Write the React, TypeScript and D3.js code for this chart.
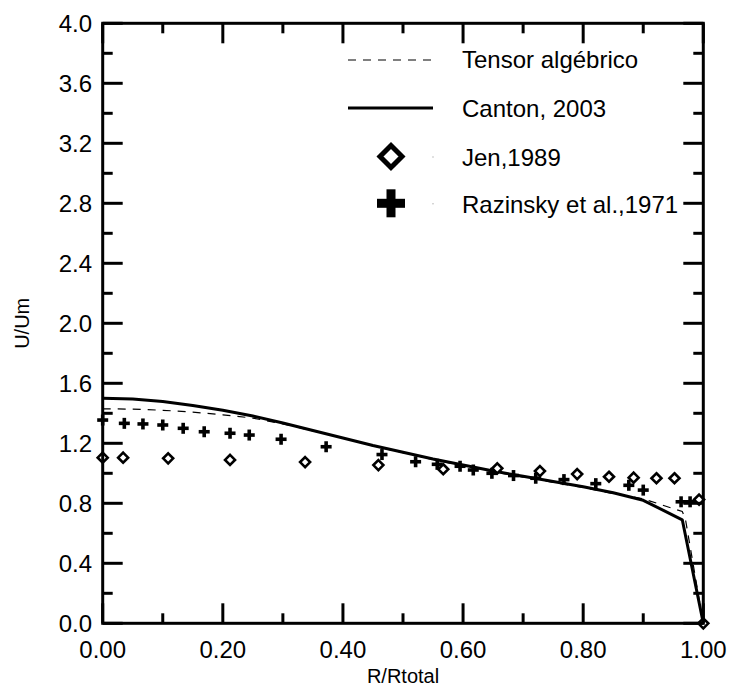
import React from "react";
import * as d3 from "d3";

const xTicksMajor = [0, 0.2, 0.4, 0.6, 0.8, 1.0];
const xTicksMinor = [0.1, 0.3, 0.5, 0.7, 0.9];
const yTicksMajor = [0, 0.4, 0.8, 1.2, 1.6, 2.0, 2.4, 2.8, 3.2, 3.6, 4.0];
const yTicksMinor = [0.2, 0.6, 1.0, 1.4, 1.8, 2.2, 2.6, 3.0, 3.4, 3.8];

const cantonX = [0, 0.05, 0.1, 0.15, 0.2, 0.25, 0.3, 0.35, 0.4, 0.45, 0.5, 0.55, 0.6, 0.65, 0.7, 0.75, 0.8, 0.85, 0.9, 0.965, 1.0];
const cantonY = [1.5, 1.495, 1.478, 1.452, 1.42, 1.382, 1.335, 1.285, 1.235, 1.185, 1.14, 1.095, 1.055, 1.015, 0.98, 0.945, 0.91, 0.87, 0.82, 0.69, 0.0];

const tensorX = [0, 0.05, 0.1, 0.15, 0.2, 0.25, 0.3, 0.35, 0.4, 0.45, 0.5, 0.55, 0.6, 0.65, 0.7, 0.75, 0.8, 0.85, 0.9, 0.965, 0.97, 1.0];
const tensorY = [1.43, 1.428, 1.42, 1.408, 1.39, 1.368, 1.33, 1.283, 1.235, 1.183, 1.137, 1.092, 1.05, 1.01, 0.975, 0.94, 0.905, 0.865, 0.83, 0.745, 0.7, 0.0];

const jenX = [0, 0.034, 0.109, 0.212, 0.337, 0.459, 0.567, 0.657, 0.728, 0.79, 0.843, 0.884, 0.922, 0.952, 0.993, 1.0];
const jenY = [1.104, 1.104, 1.1, 1.089, 1.075, 1.055, 1.027, 1.033, 1.015, 0.995, 0.977, 0.971, 0.967, 0.967, 0.825, 0.0];

const razX = [0, 0.036, 0.067, 0.1, 0.134, 0.169, 0.212, 0.244, 0.297, 0.372, 0.465, 0.521, 0.557, 0.595, 0.617, 0.648, 0.684, 0.721, 0.768, 0.821, 0.876, 0.9, 0.963, 0.978];
const razY = [1.355, 1.333, 1.329, 1.322, 1.3, 1.277, 1.267, 1.255, 1.227, 1.177, 1.125, 1.077, 1.06, 1.047, 1.022, 1.0, 0.985, 0.967, 0.958, 0.931, 0.92, 0.888, 0.81, 0.81];

const legendLabels = ["Tensor algébrico", "Canton, 2003", "Jen,1989", "Razinsky et al.,1971"];

const FONT = "'Liberation Sans', Arial, Helvetica, sans-serif";

export default function App() {
  const W = 731, H = 686;
  const L = 102.7, R = 703.3, T = 23.3, B = 623.3;
  const x = d3.scaleLinear().domain([0, 1]).range([L, R]);
  const y = d3.scaleLinear().domain([0, 4]).range([B, T]);

  const line = d3.line<[number, number]>().x(d => x(d[0])).y(d => y(d[1]));
  const canton: [number, number][] = cantonX.map((v, i) => [v, cantonY[i]]);
  const tensor: [number, number][] = tensorX.map((v, i) => [v, tensorY[i]]);

  const diamond = (cx: number, cy: number, r: number) =>
    `M${cx},${cy - r}L${cx + r},${cy}L${cx},${cy + r}L${cx - r},${cy}Z`;
  const cross = (cx: number, cy: number, h: number, t: number, key: string) => (
    <g key={key}>
      <rect x={cx - h} y={cy - t / 2} width={2 * h} height={t} fill="#000" />
      <rect x={cx - t / 2} y={cy - h} width={t} height={2 * h} fill="#000" />
    </g>
  );

  const legX = 348, legX2 = 433, legTextX = 462;
  const rowY = [60, 108, 156.5, 203.3];
  const baseY = [68, 117, 166, 213];

  return (
    <svg width={W} height={H} style={{ position: "absolute", left: 0, top: 0, background: "#fff" }}>
      <rect x={0} y={0} width={W} height={H} fill="#fff" />
      {/* data lines */}
      <path d={line(tensor) || ""} fill="none" stroke="#000" strokeWidth={1.2} strokeDasharray="8,7" />
      <path d={line(canton) || ""} fill="none" stroke="#000" strokeWidth={3} strokeLinejoin="round" />
      {/* markers */}
      {jenX.map((v, i) => (
        <path key={"j" + i} d={diamond(x(v), y(jenY[i]), 5)} fill="#fff" stroke="#000" strokeWidth={2.6} />
      ))}
      {razX.map((v, i) => cross(x(v), y(razY[i]), 5.5, 3.6, "r" + i))}

      {/* axes frame */}
      <rect x={L} y={T} width={R - L} height={B - T} fill="none" stroke="#000" strokeWidth={3} />
      {xTicksMajor.map((t, i) => (
        <g key={"xm" + i}>
          <line x1={x(t)} x2={x(t)} y1={B} y2={B - 20} stroke="#000" strokeWidth={3} />
          <line x1={x(t)} x2={x(t)} y1={T} y2={T + 20} stroke="#000" strokeWidth={3} />
          <text x={x(t)} y={658} textAnchor="middle" fontFamily={FONT} fontSize={24} fill="#000">
            {t.toFixed(2)}
          </text>
        </g>
      ))}
      {xTicksMinor.map((t, i) => (
        <g key={"xn" + i}>
          <line x1={x(t)} x2={x(t)} y1={B} y2={B - 10} stroke="#000" strokeWidth={3} />
          <line x1={x(t)} x2={x(t)} y1={T} y2={T + 10} stroke="#000" strokeWidth={3} />
        </g>
      ))}
      {yTicksMajor.map((t, i) => (
        <g key={"ym" + i}>
          <line x1={L} x2={L + 20} y1={y(t)} y2={y(t)} stroke="#000" strokeWidth={3} />
          <line x1={R} x2={R - 20} y1={y(t)} y2={y(t)} stroke="#000" strokeWidth={3} />
          <text x={92} y={y(t) + 8.5} textAnchor="end" fontFamily={FONT} fontSize={24} fill="#000">
            {t.toFixed(1)}
          </text>
        </g>
      ))}
      {yTicksMinor.map((t, i) => (
        <g key={"yn" + i}>
          <line x1={L} x2={L + 10} y1={y(t)} y2={y(t)} stroke="#000" strokeWidth={3} />
          <line x1={R} x2={R - 10} y1={y(t)} y2={y(t)} stroke="#000" strokeWidth={3} />
        </g>
      ))}

      {/* axis titles */}
      <text x={(L + R) / 2} y={683} textAnchor="middle" fontFamily={FONT} fontSize={20} fill="#000">
        R/Rtotal
      </text>
      <text
        transform={`translate(29,${(T + B) / 2}) rotate(-90)`}
        textAnchor="middle"
        fontFamily={FONT}
        fontSize={20}
        fill="#000"
      >
        U/Um
      </text>

      {/* legend */}
      <line x1={legX} x2={legX2} y1={rowY[0]} y2={rowY[0]} stroke="#000" strokeWidth={1.2} strokeDasharray="8,7" />
      <line x1={legX} x2={legX2} y1={rowY[1]} y2={rowY[1]} stroke="#000" strokeWidth={3} />
      <path d={diamond(391, rowY[2], 11)} fill="#fff" stroke="#000" strokeWidth={5} />
      {cross(391, rowY[3], 14, 9, "legc")}
      <rect x={432.5} y={rowY[2]} width={1} height={1} fill="#888" />
      <rect x={432.5} y={rowY[3]} width={1} height={1} fill="#888" />
      {legendLabels.map((s, i) => (
        <text key={"lt" + i} x={legTextX} y={baseY[i]} fontFamily={FONT} fontSize={24} fill="#000">
          {s}
        </text>
      ))}
    </svg>
  );
}
